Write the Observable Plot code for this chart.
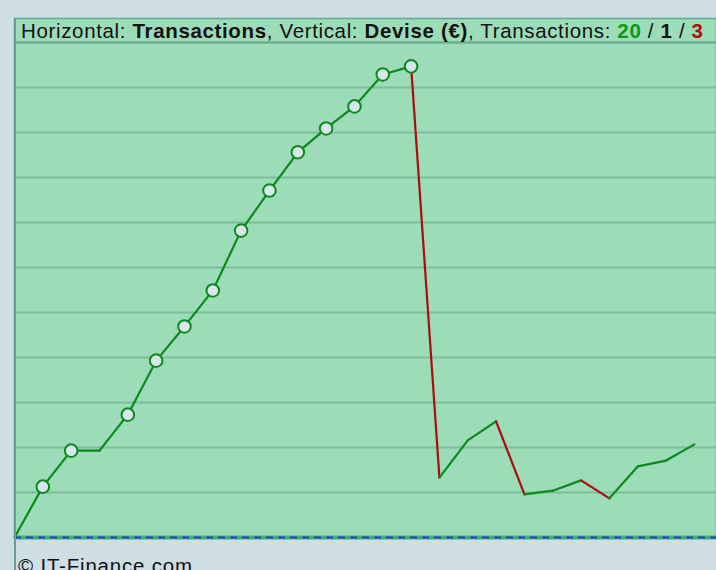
<!DOCTYPE html>
<html><head><meta charset="utf-8">
<script src="https://cdn.jsdelivr.net/npm/d3@7"></script>
<script src="https://cdn.jsdelivr.net/npm/@observablehq/plot@0.6"></script>
<style>
html,body{margin:0;padding:0;background:#cddee4;overflow:hidden;width:716px;height:570px;font-family:"Liberation Sans",Arial,sans-serif;}
#wrap{position:relative;width:716px;height:570px;}
#chart{position:absolute;left:0;top:0;}
#title{position:absolute;left:21px;top:18px;height:24px;line-height:26px;font-size:20.5px;letter-spacing:0.65px;color:#111;white-space:nowrap;}
#caption{position:absolute;left:18px;top:554px;font-size:20.5px;letter-spacing:0.8px;color:#111;white-space:nowrap;}
#vline{position:absolute;left:14px;top:18px;width:1.5px;height:552px;background:#6f9a92;}
</style></head>
<body><div id="wrap"><div id="chart"></div><div id="vline"></div>
<div id="title">Horizontal: <b>Transactions</b>, Vertical: <b>Devise (€)</b>, Transactions: <b style="color:#079c16">20</b> / <b>1</b> / <b style="color:#b50d0d">3</b></div>
<div id="caption">© IT-Finance.com</div></div>
<script>
const transactions = [0,1,2,3,4,5,6,7,8,9,10,11,12,13,14,15,16,17,18,19,20,21,22,23,24];
const balance = [0,1.13,1.93,1.93,2.73,3.93,4.69,5.49,6.82,7.71,8.56,9.09,9.58,10.29,10.47,1.33,2.16,2.58,0.96,1.04,1.27,0.87,1.58,1.71,2.07];
const gridValues = [1,2,3,4,5,6,7,8,9,10,11];

const pts = transactions.map((t,i)=>({t, v: balance[i]}));
const segs = pts.slice(1).map((p,i)=>({x1: pts[i].t, y1: pts[i].v, x2: p.t, y2: p.v, up: p.v >= pts[i].v}));
let hi = 0;
const marks = pts.filter((p,i)=>{ if(i>0 && p.v>hi){hi=p.v; return true;} return false; });

const chart = Plot.plot({
  width: 716, height: 570,
  marginLeft: 14, marginRight: 0, marginTop: 18, marginBottom: 33,
  style: {background: "transparent"},
  x: {domain: [0, 24.78], axis: null},
  y: {domain: [0, 11.533], axis: null},
  marks: [
    Plot.frame({fill: "#9cdcb8", stroke: "#5fa88a", strokeWidth: 1.5}),
    Plot.ruleY(gridValues, {stroke: "#7fbc9a", strokeWidth: 2}),
    Plot.ruleY([11], {stroke: "#6aae8e", strokeWidth: 2}),
    Plot.ruleY([0], {stroke: "#2fb86a", strokeWidth: 4}),
    Plot.ruleY([0], {stroke: "#3434e0", strokeWidth: 2, strokeDasharray: "7,5"}),
    Plot.link(segs, {x1:"x1", y1:"y1", x2:"x2", y2:"y2", stroke: d => d.up ? "#0a8a1a" : "#aa0d0d", strokeWidth: 2.2, strokeLinecap: "round"}),
    Plot.dot(marks, {x: "t", y: "v", r: 6.3, fill: "#d9e6ec", stroke: "#0a8a1a", strokeWidth: 2})
  ]
});
document.getElementById("chart").appendChild(chart);
</script></body></html>
